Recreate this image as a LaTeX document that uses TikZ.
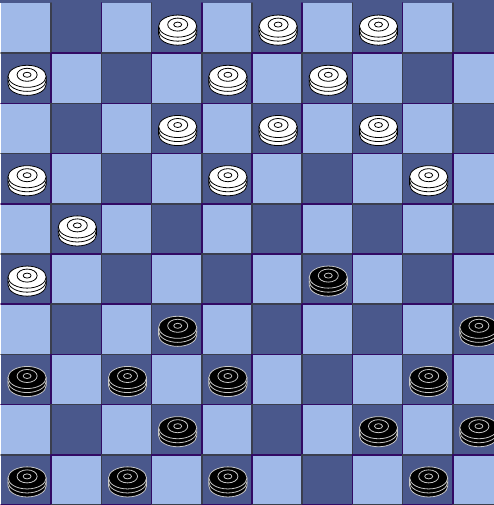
\documentclass[tikz,border=0pt]{standalone}
\usepackage{tikz}
\usetikzlibrary{calc}
\definecolor{polejasne}{RGB}{160,185,232}
\definecolor{policiemne}{RGB}{74,88,140}
\definecolor{liniaszara}{RGB}{58,62,78}
\definecolor{liniafiolet}{RGB}{50,10,100}
\tikzset{
 bialy/.style={fill=white,draw=black,line width=.45pt},
 czarny/.style={fill=black,draw=black!22,line width=.45pt}
}
% Pionek: kolumna, wiersz (od góry), styl.
\newcommand{\pionek}[3]{%
 \begin{scope}[shift={({#1+.52},{9.54-#2})},#3]
 \filldraw (-.38,0) -- (-.38,-.16)
  arc[start angle=180,end angle=360,x radius=.38,y radius=.22] -- (.38,0) -- cycle;
 \draw (-.38,-.08) arc[start angle=180,end angle=360,x radius=.38,y radius=.22];
 \filldraw (0,0) ellipse[x radius=.38,y radius=.22];
 \draw (0,.03) ellipse[x radius=.2,y radius=.13];
 \draw (0,.03) ellipse[x radius=.08,y radius=.05];
 \end{scope}}

\begin{document}
\begin{tikzpicture}[line cap=round,line join=round]
\useasboundingbox (-.02,0) rectangle (9.82,10.06);
% Pasek u góry, resztka wiersza powyżej.
\fill[policiemne] (-.02,10) rectangle (9.82,10.06);
% Pola planszy 10x10.
\foreach \w in {0,...,9}
 \foreach \k in {0,...,9}{
  \pgfmathtruncatemacro\suma{\k+\w}
  \ifodd\suma \def\wyp{policiemne}\else \def\wyp{polejasne}\fi
  \fill[\wyp] (\k,9-\w) rectangle ++(1,1);
 }
% Krawędzie: prawa i dolna każdego pola.
\foreach \w in {0,...,9}
 \foreach \k in {0,...,9}{
  \pgfmathtruncatemacro\suma{\k+\w}
  \ifodd\suma \def\kr{liniafiolet}\else \def\kr{liniaszara}\fi
  \draw[\kr,line width=.9pt] (\k+1,10-\w) -- (\k+1,9-\w) -- (\k,9-\w);
 }
% Białe pionki.
\foreach \k/\w in {3/0,5/0,7/0,0/1,4/1,6/1,3/2,5/2,7/2,0/3,4/3,8/3,1/4,0/5}
 \pionek{\k}{\w}{bialy};
% Czarne pionki.
\foreach \k/\w in {6/5,3/6,9/6,0/7,2/7,4/7,8/7,3/8,7/8,9/8,0/9,2/9,4/9,8/9}
 \pionek{\k}{\w}{czarny};
\end{tikzpicture}
\end{document}
